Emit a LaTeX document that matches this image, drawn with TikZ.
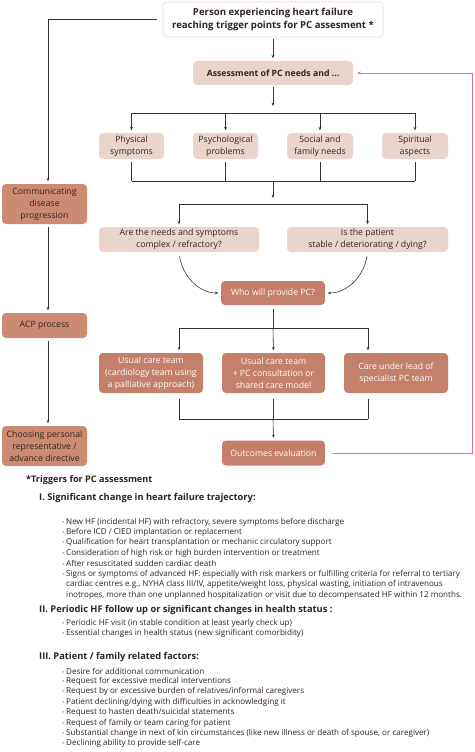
\documentclass[tikz,border=0pt]{standalone}
\usepackage{fontspec}
\setmainfont{Open Sans}
\usetikzlibrary{arrows.meta,calc}
\definecolor{lpink}{HTML}{EAD5CD}
\definecolor{salmon}{HTML}{C4806A}
\definecolor{leftc}{HTML}{CC8A73}
\definecolor{txt}{HTML}{2E2420}
\definecolor{lineg}{HTML}{333333}
\definecolor{topb}{HTML}{E6DCD6}
\definecolor{redl}{HTML}{CF7A8C}
\definecolor{bulc}{HTML}{D06070}
\newcommand\mybul{\llap{\textcolor{bulc}{\fontsize{6}{6}\selectfont\textbullet}\hspace{1.8pt}}}
\begin{document}
\begin{tikzpicture}[x=1pt,y=-1pt,
  box/.style={rounded corners=4pt, align=center, inner sep=1pt, font=\fontsize{8.7}{12}\selectfont},
  lbox/.style={box, fill=lpink, text=txt},
  sbox/.style={box, fill=salmon, text=white},
  cbox/.style={box, fill=leftc, text=txt},
  con/.style={draw=lineg, line width=0.6pt},
  arr/.style={con, -{Stealth[length=3.4pt,width=2.8pt]}, shorten >=2.5pt},
  redarr/.style={draw=redl, line width=0.9pt, -{Stealth[length=3.6pt,width=3pt]}, shorten >=4pt},
  hd/.style={anchor=west, inner sep=0pt, font=\bfseries\fontsize{9.3}{11}\selectfont, text=txt},
  bl/.style={anchor=west, inner sep=0pt, font=\fontsize{8.1}{9}\selectfont, text=txt}
]
\useasboundingbox[fill=white] (0,0) rectangle (474,752);

% --- main column boxes
\node[box, fill=white, draw=topb, line width=0.6pt, minimum width=220pt, minimum height=35pt,
      font=\bfseries\fontsize{9.6}{13.5}\selectfont, text=txt] (top) at (273,19.5)
      {Person experiencing heart failure\\reaching trigger points for PC assesment *};
\node[lbox, minimum width=160pt, minimum height=24pt, font=\bfseries\fontsize{8.7}{10.6}\selectfont] (assess) at (273,73) {Assessment of PC needs and \dots};

\node[lbox, minimum width=65pt, minimum height=26pt] (phys) at (131.5,146) {Physical\\symptoms};
\node[lbox, minimum width=65pt, minimum height=26pt] (psych) at (225.5,146) {Psychological\\problems};
\node[lbox, minimum width=66pt, minimum height=26pt] (social) at (320,146) {Social and\\family needs};
\node[lbox, minimum width=66pt, minimum height=26pt] (spirit) at (415,146) {Spiritual\\aspects};

\node[lbox, minimum width=160pt, minimum height=25pt] (q1) at (179,239.5) {Are the needs and symptoms\\complex / refractory?};
\node[lbox, minimum width=161pt, minimum height=25pt] (q2) at (367.5,239.5) {Is the patient\\stable / deteriorating / dying?};

\node[sbox, minimum width=104pt, minimum height=24pt] (who) at (273,293) {Who will provide PC?};

\node[sbox, minimum width=104pt, minimum height=40pt] (u1) at (151,373) {Usual care team\\(cardiology team using\\a palliative approach)};
\node[sbox, minimum width=103pt, minimum height=40pt] (u2) at (273.5,373) {Usual care team\\+ PC consultation or\\shared care model};
\node[sbox, minimum width=104pt, minimum height=40pt] (u3) at (396,373) {Care under lead of\\specialist PC team};

\node[sbox, minimum width=103pt, minimum height=25pt] (out) at (273.5,453) {Outcomes evaluation};

% --- left column
\node[cbox, minimum width=85pt, minimum height=40pt] (comm) at (44.5,204) {Communicating\\disease\\progression};
\node[cbox, minimum width=85pt, minimum height=25pt] (acp) at (44.5,325.5) {ACP process};
\node[cbox, minimum width=85pt, minimum height=40pt] (choose) at (44.5,446) {Choosing personal\\representative /\\advance directive};

% --- connector coordinates
\coordinate (lx) at (48,0);
\coordinate (rx) at (472,0);
\coordinate (b1) at (273,113);
\coordinate (b2) at (273,181);
\coordinate (b3) at (273,204);
\coordinate (b4) at (273,328);
\coordinate (b4l) at (179,328);
\coordinate (b4r) at (368,328);
\coordinate (b5) at (273,419);
\coordinate (b5l) at (179,419);
\coordinate (b5r) at (368,419);

% left chain
\draw[arr] ([xshift=-6pt]top.west) -| (lx |- comm.north);
\draw[arr, shorten <=3pt] (lx |- comm.south) -- (lx |- acp.north);
\draw[arr, shorten <=3pt] (lx |- acp.south) -- (lx |- choose.north);

% main chain
\draw[arr, shorten <=2pt] (top.south) -- (assess.north);
\draw[arr, shorten <=2pt, shorten >=7pt] (assess.south) -- (b1);
\draw[con] (phys.north |- b1) -- (spirit.north |- b1);
\foreach \n in {phys,psych,social,spirit}{
  \draw[arr] (\n.north |- b1) -- (\n.north);
  \draw[con, shorten <=3pt] (\n.south) -- (\n.south |- b2);
}
\draw[con] (phys.south |- b2) -- (spirit.south |- b2);
\draw[arr, shorten >=6pt] (b2) -- (b3);
\draw[con] (q1.north |- b3) -- (q2.north |- b3);
\draw[arr] (q1.north |- b3) -- (q1.north);
\draw[arr] (q2.north |- b3) -- (q2.north);

\draw[arr, shorten <=4pt] (q1.south) to[out=-82,in=180] (who.west);
\draw[arr, shorten <=4pt] (q2.south) to[out=-98,in=0] (who.east);

\draw[con, shorten <=4pt] (who.south) -- (b4);
\draw[con] (b4l) -- (b4r);
\draw[arr] (b4l) -- (b4l |- u1.north);
\draw[arr] (b4) -- (u2.north);
\draw[arr] (b4r) -- (b4r |- u3.north);

\draw[con, shorten <=6pt] (b5l |- u1.south) -- (b5l);
\draw[con, shorten <=6pt] (b5 |- u2.south) -- (b5);
\draw[con, shorten <=6pt] (b5r |- u3.south) -- (b5r);
\draw[con] (b5l) -- (b5r);
\draw[arr] (b5) -- (out.north);

% feedback loop
\draw[redarr, line cap=rect] ([xshift=8pt]out.east) -| (rx |- assess.east) -- (assess.east);

% --- triggers text
\node[anchor=west, inner sep=0pt, font=\bfseries\fontsize{9.1}{11}\selectfont, text=txt] (t0) at (26,480) {*Triggers for PC assessment};

\node[hd] (h1) at (39,498) {I. Significant change in heart failure trajectory:};
\node[bl] (a1) at (66,522) {\mybul New HF (incidental HF) with refractory, severe symptoms before discharge};
\node[bl] (a2) at (66,532.3) {\mybul Before ICD / CIED implantation or replacement};
\node[bl] (a3) at (66,542.6) {\mybul Qualification for heart transplantation or mechanic circulatory support};
\node[bl] (a4) at (66,552.9) {\mybul Consideration of high risk or high burden intervention or treatment};
\node[bl] (a5) at (66,563.2) {\mybul After resuscitated sudden cardiac death};
\node[bl] (a6) at (66,574.5) {\mybul Signs or symptoms of advanced HF: especially with risk markers or fulfilling criteria for referral to tertiary};
\node[bl] (a7) at (66,584.8) {cardiac centres e.g., NYHA class III/IV, appetite/weight loss, physical wasting, initiation of intravenous};
\node[bl] (a8) at (66,595.1) {inotropes, more than one unplanned hospitalization or visit due to decompensated HF within 12 months.};

\node[hd] (h2) at (39,610) {II. Periodic HF follow up or significant changes in health status :};
\node[bl] (b1t) at (66,623) {\mybul Periodic HF visit (in stable condition at least yearly check up)};
\node[bl] (b2t) at (66,633.3) {\mybul Essential changes in health status (new significant comorbidity)};

\node[hd] (h3) at (39,657) {III. Patient / family related factors:};
\node[bl] (c1) at (66,671) {\mybul Desire for additional communication};
\node[bl] (c2) at (66,681.4) {\mybul Request for excessive medical interventions};
\node[bl] (c3) at (66,691.8) {\mybul Request by or excessive burden of relatives/informal caregivers};
\node[bl] (c4) at (66,702.2) {\mybul Patient declining/dying with difficulties in acknowledging it};
\node[bl] (c5) at (66,712.6) {\mybul Request to hasten death/suicidal statements};
\node[bl] (c6) at (66,723) {\mybul Request of family or team caring for patient};
\node[bl] (c7) at (66,733.4) {\mybul Substantial change in next of kin circumstances (like new illness or death of spouse, or caregiver)};
\node[bl] (c8) at (66,743.8) {\mybul Declining ability to provide self-care};
\end{tikzpicture}
\end{document}
